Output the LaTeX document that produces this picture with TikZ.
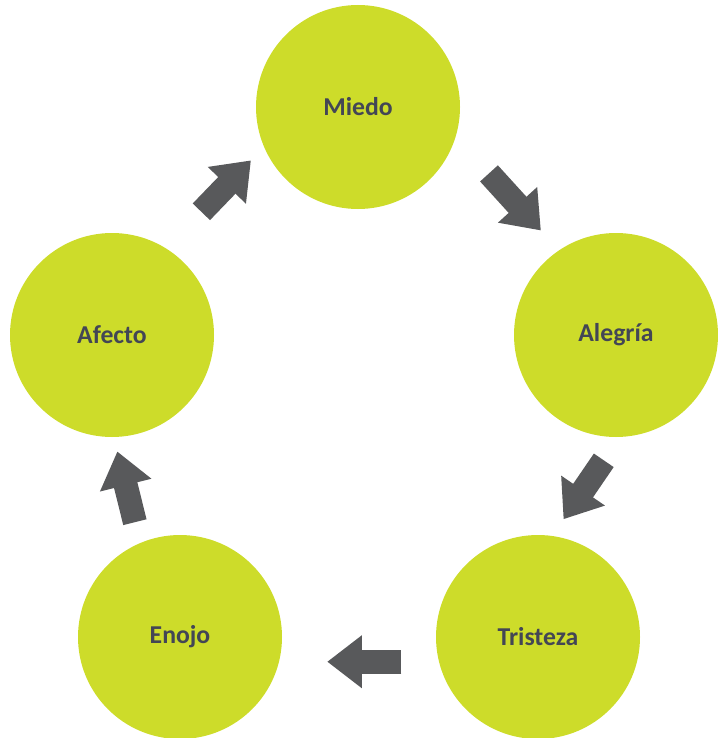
\documentclass[tikz,border=0pt]{standalone}
\usepackage{fontspec}
\setmainfont{Carlito}
\usetikzlibrary{arrows.meta}
\definecolor{verde}{HTML}{CDDC2A}
\definecolor{gris}{HTML}{58595B}
\definecolor{texto}{HTML}{434655}
\tikzset{every node/.style={shape=circle, fill=verde, minimum size=153pt, inner sep=0pt,
  text=texto, font=\fontsize{19.3}{21}\selectfont\bfseries}}
\tikzset{every edge/.style={draw=gris, line width=18pt, -{Triangle[length=26pt, width=38pt]}}}

\begin{document}
\begin{tikzpicture}[x=0.75pt, y=-0.75pt]
  \useasboundingbox (0,0) rectangle (717,738);
  \node (M) at (358,107) {Miedo};
  \node (Al) at (616,335) {Alegría};
  \node (T) at (538,637) {Tristeza};
  \node (E) at (180,637) {Enojo};
  \node (Af) at (112,335) {Afecto};

  \path (Af.58) edge [shorten <=38pt, shorten >=14pt] (M.203);
  \path (M.-17) edge [shorten <=37pt, shorten >=20pt] (Al.124);
  \path (Al.-88) edge [shorten <=21pt, shorten >=15pt] (T.82);
  \path (T.194) edge [shorten <=28pt, shorten >=36pt] (E.-14);
  \path (E.113) edge [shorten <=16pt, shorten >=11pt] (Af.-89);
\end{tikzpicture}
\end{document}
